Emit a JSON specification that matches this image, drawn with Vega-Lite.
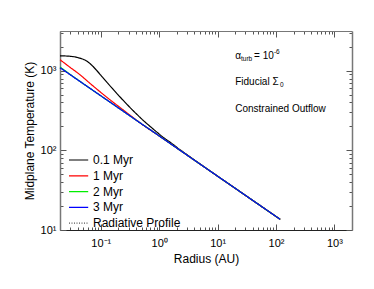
{
  "$schema": "https://vega.github.io/schema/vega-lite/v6.json",
  "width": 292,
  "height": 199,
  "autosize": "none",
  "padding": {"left": 60, "top": 31, "right": 22, "bottom": 59},
  "background": "white",
  "config": {
    "font": "Liberation Sans",
    "view": {"stroke": null},
    "axis": {
      "grid": false,
      "labelFont": "Liberation Sans",
      "titleFont": "Liberation Sans",
      "labelFontSize": 11,
      "titleFontSize": 12,
      "titleFontWeight": "normal",
      "labelColor": "#000",
      "titleColor": "#000",
      "tickColor": "#555",
      "labelOverlap": false,
      "labelFlush": false
    },
    "legend": {"labelFont": "Liberation Sans"}
  },
  "datasets": {
    "curves": [
      {"series": "Radiative Profile", "r": 0.02, "T": 1094},
      {"series": "Radiative Profile", "r": 0.05, "T": 689},
      {"series": "Radiative Profile", "r": 0.1, "T": 485},
      {"series": "Radiative Profile", "r": 0.2, "T": 342},
      {"series": "Radiative Profile", "r": 0.5, "T": 215},
      {"series": "Radiative Profile", "r": 1, "T": 152},
      {"series": "Radiative Profile", "r": 2, "T": 107},
      {"series": "Radiative Profile", "r": 5, "T": 67.3},
      {"series": "Radiative Profile", "r": 10, "T": 47.4},
      {"series": "Radiative Profile", "r": 20, "T": 33.4},
      {"series": "Radiative Profile", "r": 50, "T": 21.0},
      {"series": "Radiative Profile", "r": 118, "T": 13.6},
      {"series": "0.1 Myr", "r": 0.02, "T": 1540},
      {"series": "0.1 Myr", "r": 0.025, "T": 1535},
      {"series": "0.1 Myr", "r": 0.03, "T": 1521},
      {"series": "0.1 Myr", "r": 0.035, "T": 1500},
      {"series": "0.1 Myr", "r": 0.04, "T": 1470},
      {"series": "0.1 Myr", "r": 0.045, "T": 1435},
      {"series": "0.1 Myr", "r": 0.05, "T": 1395},
      {"series": "0.1 Myr", "r": 0.06, "T": 1295},
      {"series": "0.1 Myr", "r": 0.07, "T": 1175},
      {"series": "0.1 Myr", "r": 0.085, "T": 1010},
      {"series": "0.1 Myr", "r": 0.1, "T": 880},
      {"series": "0.1 Myr", "r": 0.13, "T": 705},
      {"series": "0.1 Myr", "r": 0.17, "T": 565},
      {"series": "0.1 Myr", "r": 0.21, "T": 475},
      {"series": "0.1 Myr", "r": 0.26, "T": 402},
      {"series": "0.1 Myr", "r": 0.33, "T": 335},
      {"series": "0.1 Myr", "r": 0.42, "T": 281},
      {"series": "0.1 Myr", "r": 0.55, "T": 233},
      {"series": "0.1 Myr", "r": 0.7, "T": 200},
      {"series": "0.1 Myr", "r": 0.9, "T": 171},
      {"series": "0.1 Myr", "r": 1.2, "T": 144},
      {"series": "0.1 Myr", "r": 1.6, "T": 124},
      {"series": "0.1 Myr", "r": 2.2, "T": 103.8},
      {"series": "0.1 Myr", "r": 3, "T": 88},
      {"series": "0.1 Myr", "r": 5, "T": 67.6},
      {"series": "0.1 Myr", "r": 10, "T": 47.4},
      {"series": "0.1 Myr", "r": 20, "T": 33.4},
      {"series": "0.1 Myr", "r": 50, "T": 21.0},
      {"series": "0.1 Myr", "r": 118, "T": 13.6},
      {"series": "1 Myr", "r": 0.02, "T": 1378},
      {"series": "1 Myr", "r": 0.0296, "T": 1108},
      {"series": "1 Myr", "r": 0.044, "T": 892},
      {"series": "1 Myr", "r": 0.0653, "T": 695},
      {"series": "1 Myr", "r": 0.097, "T": 545},
      {"series": "1 Myr", "r": 0.1436, "T": 432},
      {"series": "1 Myr", "r": 0.213, "T": 346},
      {"series": "1 Myr", "r": 0.316, "T": 277},
      {"series": "1 Myr", "r": 0.469, "T": 222},
      {"series": "1 Myr", "r": 1, "T": 152},
      {"series": "1 Myr", "r": 2, "T": 107},
      {"series": "1 Myr", "r": 5, "T": 67.3},
      {"series": "1 Myr", "r": 10, "T": 47.4},
      {"series": "1 Myr", "r": 20, "T": 33.4},
      {"series": "1 Myr", "r": 50, "T": 21.0},
      {"series": "1 Myr", "r": 118, "T": 13.6},
      {"series": "2 Myr", "r": 0.02, "T": 1118},
      {"series": "2 Myr", "r": 0.025, "T": 992},
      {"series": "2 Myr", "r": 0.03, "T": 897},
      {"series": "2 Myr", "r": 0.04, "T": 773},
      {"series": "2 Myr", "r": 0.05, "T": 689},
      {"series": "2 Myr", "r": 0.1, "T": 485},
      {"series": "2 Myr", "r": 0.2, "T": 342},
      {"series": "2 Myr", "r": 0.5, "T": 215},
      {"series": "2 Myr", "r": 1, "T": 152},
      {"series": "2 Myr", "r": 2, "T": 107},
      {"series": "2 Myr", "r": 5, "T": 67.3},
      {"series": "2 Myr", "r": 10, "T": 47.4},
      {"series": "2 Myr", "r": 20, "T": 33.4},
      {"series": "2 Myr", "r": 50, "T": 21.0},
      {"series": "2 Myr", "r": 118, "T": 13.6},
      {"series": "3 Myr", "r": 0.02, "T": 1094},
      {"series": "3 Myr", "r": 0.05, "T": 689},
      {"series": "3 Myr", "r": 0.1, "T": 485},
      {"series": "3 Myr", "r": 0.2, "T": 342},
      {"series": "3 Myr", "r": 0.5, "T": 215},
      {"series": "3 Myr", "r": 1, "T": 152},
      {"series": "3 Myr", "r": 2, "T": 107},
      {"series": "3 Myr", "r": 5, "T": 67.3},
      {"series": "3 Myr", "r": 10, "T": 47.4},
      {"series": "3 Myr", "r": 20, "T": 33.4},
      {"series": "3 Myr", "r": 50, "T": 21.0},
      {"series": "3 Myr", "r": 118, "T": 13.6}
    ],
    "notes": [
      {"r": 20, "T": 1535, "text": "α"},
      {"r": 42, "T": 1535, "text": "= 10"},
      {"r": 20, "T": 723, "text": "Fiducial Σ"},
      {"r": 20, "T": 331, "text": "Constrained Outflow"}
    ],
    "subs": [
      {"r": 25.1, "T": 1535, "text": "turb"},
      {"r": 117, "T": 723, "text": "0"}
    ],
    "sups": [
      {"r": 92, "T": 1535, "text": "-6"}
    ]
  },
  "layer": [
    {
      "data": {"name": "curves"},
      "mark": {"type": "line", "strokeWidth": 1.2, "interpolate": "monotone"},
      "encoding": {
        "x": {
          "field": "r", "type": "quantitative",
          "scale": {"type": "log", "domain": [0.02, 2000], "nice": false},
          "axis": {
            "orient": "bottom",
            "title": "Radius (AU)",
            "titlePadding": 2,
            "values": [0.02,0.03,0.04,0.05,0.06,0.07,0.08,0.09,0.1,0.2,0.3,0.4,0.5,0.6,0.7,0.8,0.9,1,2,3,4,5,6,7,8,9,10,20,30,40,50,60,70,80,90,100,200,300,400,500,600,700,800,900,1000],
            "labelExpr": "datum.value == 0.1 ? '10⁻¹' : datum.value == 1 ? '10⁰' : datum.value == 10 ? '10¹' : datum.value == 100 ? '10²' : datum.value == 1000 ? '10³' : ''",
            "tickSize": {"condition": {"test": "indexof([0.1,1,10,100,1000], datum.value) >= 0", "value": -6}, "value": -3},
            "labelPadding": 13,
            "domainColor": "#222"
          }
        },
        "y": {
          "field": "T", "type": "quantitative",
          "scale": {"type": "log", "domain": [10, 3162], "nice": false},
          "axis": {
            "orient": "left",
            "title": "Midplane Temperature (K)",
            "titlePadding": 4,
            "values": [10,20,30,40,50,60,70,80,90,100,200,300,400,500,600,700,800,900,1000,2000,3000],
            "labelExpr": "datum.value == 10 ? '10¹' : datum.value == 100 ? '10²' : datum.value == 1000 ? '10³' : ''",
            "tickSize": {"condition": {"test": "indexof([10,100,1000], datum.value) >= 0", "value": -6}, "value": -3},
            "labelPadding": 10,
            "domainColor": "#777",
            "domainWidth": 1.5
          }
        },
        "color": {
          "field": "series", "type": "nominal",
          "scale": {"domain": ["0.1 Myr", "1 Myr", "2 Myr", "3 Myr", "Radiative Profile"], "range": ["#000000", "#ff0000", "#00ee00", "#0000ff", "#555555"]},
          "legend": {
            "title": null, "orient": "none", "legendX": 11.6, "legendY": 122,
            "symbolType": "M-1.6,0H1.6", "symbolSize": 144, "symbolStrokeWidth": 1.2,
            "labelFontSize": 12, "labelOffset": 7.4, "rowPadding": 2.8, "padding": 0
          }
        },
        "strokeDash": {
          "field": "series", "type": "nominal",
          "scale": {"domain": ["0.1 Myr", "1 Myr", "2 Myr", "3 Myr", "Radiative Profile"], "range": [[1, 0], [1, 0], [1, 0], [1, 0], [1, 1.5]]},
          "legend": {
            "title": null, "orient": "none", "legendX": 11.6, "legendY": 122,
            "symbolType": "M-1.6,0H1.6", "symbolSize": 144, "symbolStrokeWidth": 1.2,
            "labelFontSize": 12, "labelOffset": 7.4, "rowPadding": 2.8, "padding": 0
          }
        }
      }
    },
    {
      "data": {"name": "notes"},
      "mark": {"type": "text", "align": "left", "baseline": "middle", "fontSize": 10, "font": "Liberation Sans"},
      "encoding": {
        "x": {
          "field": "r", "type": "quantitative", "scale": {"type": "log", "nice": false},
          "axis": {
            "orient": "top", "title": null, "labels": false,
            "values": [0.02,0.03,0.04,0.05,0.06,0.07,0.08,0.09,0.1,0.2,0.3,0.4,0.5,0.6,0.7,0.8,0.9,1,2,3,4,5,6,7,8,9,10,20,30,40,50,60,70,80,90,100,200,300,400,500,600,700,800,900,1000],
            "tickSize": {"condition": {"test": "indexof([0.1,1,10,100,1000], datum.value) >= 0", "value": -6}, "value": -3},
            "domainColor": "#777"
          }
        },
        "y": {
          "field": "T", "type": "quantitative", "scale": {"type": "log", "nice": false},
          "axis": {
            "orient": "right", "title": null, "labels": false,
            "values": [10,20,30,40,50,60,70,80,90,100,200,300,400,500,600,700,800,900,1000,2000,3000],
            "tickSize": {"condition": {"test": "indexof([10,100,1000], datum.value) >= 0", "value": -6}, "value": -3},
            "domainColor": "#777",
            "domainWidth": 1.5
          }
        },
        "text": {"field": "text"}
      }
    },
    {
      "data": {"name": "subs"},
      "mark": {"type": "text", "align": "left", "baseline": "middle", "fontSize": 6.5, "dy": 3, "font": "Liberation Sans"},
      "encoding": {
        "x": {"field": "r", "type": "quantitative", "scale": {"type": "log", "nice": false}, "axis": null},
        "y": {"field": "T", "type": "quantitative", "scale": {"type": "log", "nice": false}, "axis": null},
        "text": {"field": "text"}
      }
    },
    {
      "data": {"name": "sups"},
      "mark": {"type": "text", "align": "left", "baseline": "middle", "fontSize": 6.5, "dy": -4, "font": "Liberation Sans"},
      "encoding": {
        "x": {"field": "r", "type": "quantitative", "scale": {"type": "log", "nice": false}, "axis": null},
        "y": {"field": "T", "type": "quantitative", "scale": {"type": "log", "nice": false}, "axis": null},
        "text": {"field": "text"}
      }
    }
  ],
  "resolve": {"scale": {"x": "shared", "y": "shared"}, "axis": {"x": "independent", "y": "independent"}}
}
